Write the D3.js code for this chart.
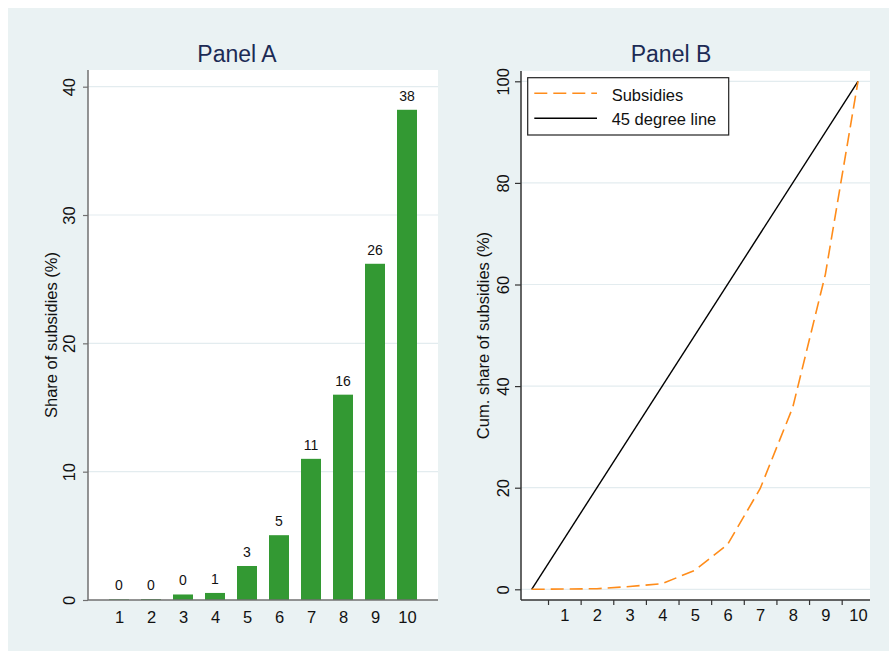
<!DOCTYPE html>
<html>
<head>
<meta charset="utf-8">
<script src="https://cdn.jsdelivr.net/npm/d3@7"></script>
<style>
html,body{margin:0;padding:0;background:#fff;}
svg{display:block;font-family:"Liberation Sans",Arial,Helvetica,sans-serif;}
</style>
</head>
<body>
<svg id="chart" width="889" height="651"></svg>
<script>
// ---- Data ----
const deciles = [1,2,3,4,5,6,7,8,9,10];
const shareValues = [0.05,0.07,0.43,0.55,2.65,5.05,11.0,16.0,26.2,38.2];
const shareLabels = ["0","0","0","1","3","5","11","16","26","38"];
const cumX = [0,1,2,3,4,5,6,7,8,9,10];
const cumSubsidies = [0,0.05,0.12,0.55,1.1,3.75,8.8,19.8,35.8,62.0,100];
const line45 = [0,100];
const line45X = [0,10];
const yTicksA = [0,10,20,30,40];
const yTicksB = [0,20,40,60,80,100];
const xTickMarksB = [0.5,1.5,2.5,3.5,4.5,5.5,6.5,7.5,8.5,9.5];
const legendLabels = ["Subsidies","45 degree line"];

const svg = d3.select("#chart");
const bg = "#eaf2f3", grid = "#e3ecef", navy = "#1c2b55";
const green = "#339933", orange = "#ff8c1a";
const tickFs = 16.5;

svg.append("rect").attr("x",8).attr("y",8).attr("width",881).attr("height",643).attr("fill",bg);

// ================= Panel A =================
const A = {l:88, r:438, t:70, b:600};
const xA = d3.scaleLinear().domain([0,11]).range([87,439]);
const yA = d3.scaleLinear().domain([0,41.3]).range([A.b,A.t]);
const gA = svg.append("g");
gA.append("rect").attr("x",A.l).attr("y",A.t).attr("width",A.r-A.l).attr("height",A.b-A.t).attr("fill","#fff");
gA.selectAll("line.grid").data(yTicksA.filter(d=>d>0)).join("line")
  .attr("x1",A.l).attr("x2",A.r).attr("y1",d=>yA(d)).attr("y2",d=>yA(d))
  .attr("stroke",grid).attr("stroke-width",1.2);
const bw = 20/32;
gA.selectAll("rect.bar").data(deciles).join("rect")
  .attr("x",(d)=>xA(d-bw/2)).attr("width",xA(bw)-xA(0))
  .attr("y",(d,i)=>yA(shareValues[i])).attr("height",(d,i)=>yA(0)-yA(shareValues[i]))
  .attr("fill",green);
gA.selectAll("text.lab").data(deciles).join("text")
  .attr("x",d=>xA(d)).attr("y",(d,i)=>yA(shareValues[i])-9)
  .attr("text-anchor","middle").attr("font-size",14).attr("fill","#111")
  .text((d,i)=>shareLabels[i]);
// axes
const yAxisA = d3.axisLeft(yA).tickValues(yTicksA).tickSize(5).tickSizeOuter(0).tickFormat(d3.format("d"));
const ya = gA.append("g").attr("transform",`translate(${A.l},0)`).call(yAxisA);
ya.select(".domain").attr("stroke","#707070").attr("stroke-width",1.5).attr("d",`M0,${A.t}V${A.b}`);
ya.selectAll(".tick line").attr("stroke","#707070").attr("stroke-width",1.2);
ya.selectAll(".tick text").attr("font-size",tickFs).attr("fill","#111")
  .attr("transform","rotate(-90)").attr("x",0).attr("y",-13).attr("dy","0").attr("text-anchor","middle")
  .attr("font-family","Liberation Sans, Arial, sans-serif");
const xAxisA = d3.axisBottom(xA).tickValues(deciles).tickSize(0).tickSizeOuter(0).tickFormat(d3.format("d"));
const xa = gA.append("g").attr("transform",`translate(0,${A.b})`).call(xAxisA);
xa.select(".domain").attr("stroke","#707070").attr("stroke-width",1.5).attr("d",`M${A.l},0H${A.r}`);
xa.selectAll(".tick text").attr("font-size",tickFs).attr("fill","#111").attr("y",22.5).attr("dy","0")
  .attr("font-family","Liberation Sans, Arial, sans-serif");
gA.append("text").attr("transform",`translate(57,${(A.t+A.b)/2}) rotate(-90)`)
  .attr("text-anchor","middle").attr("font-size",16.5).attr("fill","#111").text("Share of subsidies (%)");
gA.append("text").attr("x",237).attr("y",62).attr("text-anchor","middle")
  .attr("font-size",23).attr("fill",navy).text("Panel A");

// ================= Panel B =================
const B = {l:521, r:870, t:71, b:600};
const xB = d3.scaleLinear().domain([0,10]).range([531.7,858]);
const yB = d3.scaleLinear().domain([0,100]).range([589.3,81.3]);
const gB = svg.append("g");
gB.append("rect").attr("x",B.l).attr("y",B.t).attr("width",B.r-B.l).attr("height",B.b-B.t).attr("fill","#fff");
gB.selectAll("line.grid").data(yTicksB).join("line")
  .attr("x1",B.l).attr("x2",B.r).attr("y1",d=>yB(d)).attr("y2",d=>yB(d))
  .attr("stroke",grid).attr("stroke-width",1.2);
const lineGen = d3.line().x(d=>xB(d[0])).y(d=>yB(d[1]));
gB.append("path").datum(line45X.map((x,i)=>[x,line45[i]]))
  .attr("d",lineGen).attr("fill","none").attr("stroke","#000").attr("stroke-width",1.4);
gB.append("path").datum(cumX.map((x,i)=>[x,cumSubsidies[i]]))
  .attr("d",lineGen).attr("fill","none").attr("stroke",orange).attr("stroke-width",1.6)
  .attr("stroke-dasharray","13,6");
const yAxisB = d3.axisLeft(yB).tickValues(yTicksB).tickSize(6).tickSizeOuter(0).tickFormat(d3.format("d"));
const yb = gB.append("g").attr("transform",`translate(${B.l},0)`).call(yAxisB);
yb.select(".domain").attr("stroke","#333").attr("stroke-width",1.5).attr("d",`M0,${B.t}V${B.b}`);
yb.selectAll(".tick line").attr("stroke","#333").attr("stroke-width",1.2);
yb.selectAll(".tick text").attr("font-size",tickFs).attr("fill","#111")
  .attr("transform","rotate(-90)").attr("x",0).attr("y",-12).attr("dy","0").attr("text-anchor","middle")
  .attr("font-family","Liberation Sans, Arial, sans-serif");
const xAxisBt = d3.axisBottom(xB).tickValues(xTickMarksB).tickSize(5).tickSizeOuter(0).tickFormat("");
const xbt = gB.append("g").attr("transform",`translate(0,${B.b})`).call(xAxisBt);
xbt.select(".domain").attr("stroke","#333").attr("stroke-width",1.5).attr("d",`M${B.l},0H${B.r}`);
xbt.selectAll(".tick line").attr("stroke","#333").attr("stroke-width",1.2);
const xAxisBl = d3.axisBottom(xB).tickValues(deciles).tickSize(0).tickFormat(d3.format("d"));
const xbl = gB.append("g").attr("transform",`translate(0,${B.b})`).call(xAxisBl);
xbl.select(".domain").remove();
xbl.selectAll(".tick text").attr("font-size",tickFs).attr("fill","#111").attr("y",20.5).attr("dy","0")
  .attr("font-family","Liberation Sans, Arial, sans-serif");
gB.append("text").attr("transform",`translate(489,${(B.t+B.b)/2}) rotate(-90)`)
  .attr("text-anchor","middle").attr("font-size",16.5).attr("fill","#111").text("Cum. share of subsidies (%)");
gB.append("text").attr("x",671).attr("y",62).attr("text-anchor","middle")
  .attr("font-size",23).attr("fill",navy).text("Panel B");
// legend
const lg = gB.append("g");
lg.append("rect").attr("x",527.7).attr("y",77.7).attr("width",201).attr("height",57.3)
  .attr("fill","#fff").attr("stroke","#222").attr("stroke-width",1.2);
const legStyles = [{c:orange,dash:"13,6",w:1.6},{c:"#000",dash:null,w:1.4}];
legendLabels.forEach((t,i)=>{
  const y = [93.3,118.3][i];
  lg.append("line").attr("x1",534.3).attr("x2",597).attr("y1",y).attr("y2",y)
    .attr("stroke",legStyles[i].c).attr("stroke-width",legStyles[i].w)
    .attr("stroke-dasharray",legStyles[i].dash);
  lg.append("text").attr("x",611.7).attr("y",[100.5,124.5][i]).attr("font-size",16.5).attr("fill","#111").text(t);
});
</script>
</body>
</html>
